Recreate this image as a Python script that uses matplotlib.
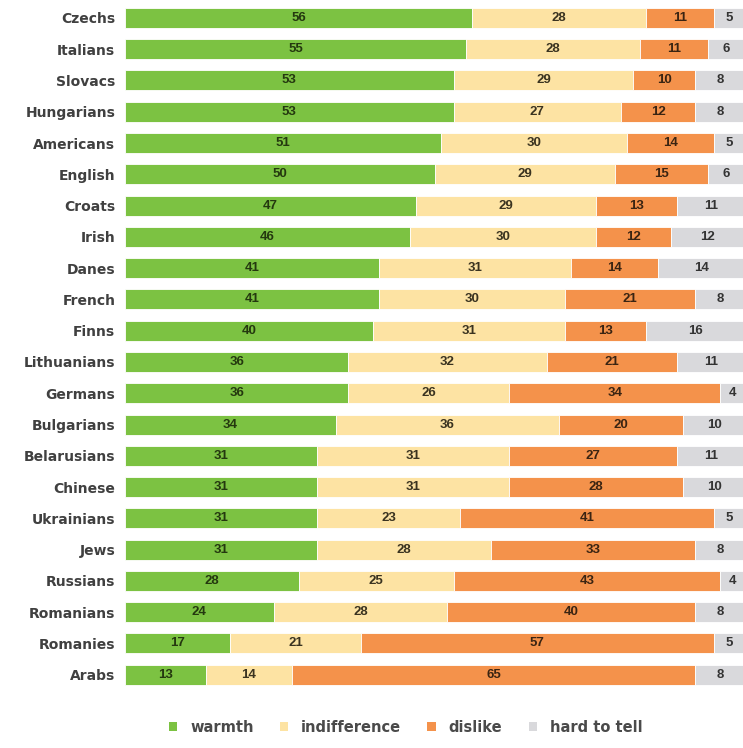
import numpy as np
import matplotlib.pyplot as plt
from matplotlib.patches import Patch

groups = ['Czechs', 'Italians', 'Slovacs', 'Hungarians', 'Americans', 'English',
          'Croats', 'Irish', 'Danes', 'French', 'Finns', 'Lithuanians', 'Germans',
          'Bulgarians', 'Belarusians', 'Chinese', 'Ukrainians', 'Jews', 'Russians',
          'Romanians', 'Romanies', 'Arabs']
warmth = [56, 55, 53, 53, 51, 50, 47, 46, 41, 41, 40, 36, 36, 34, 31, 31, 31, 31, 28, 24, 17, 13]
indifference = [28, 28, 29, 27, 30, 29, 29, 30, 31, 30, 31, 32, 26, 36, 31, 31, 23, 28, 25, 28, 21, 14]
dislike = [11, 11, 10, 12, 14, 15, 13, 12, 14, 21, 13, 21, 34, 20, 27, 28, 41, 33, 43, 40, 57, 65]
hard_to_tell = [5, 6, 8, 8, 5, 6, 11, 12, 14, 8, 16, 11, 4, 10, 11, 10, 5, 8, 4, 8, 5, 8]

series = [
    ('warmth', warmth, '#7cc242', '#24380f'),
    ('indifference', indifference, '#fde3a3', '#3a3320'),
    ('dislike', dislike, '#f4924b', '#3a2412'),
    ('hard to tell', hard_to_tell, '#d9d9dc', '#333333'),
]

fig = plt.figure(figsize=(7.43, 7.48), dpi=100)
ax = fig.add_axes([125 / 743, 0.077, 620 / 743, 0.92])

y = np.arange(len(groups))
left = np.zeros(len(groups))
for name, vals, color, tcolor in series:
    vals = np.array(vals, dtype=float)
    ax.barh(y, vals, left=left, height=0.64, color=color, edgecolor='white',
            linewidth=0.6, label=name)
    for yi, (l, v) in enumerate(zip(left, vals)):
        ax.text(l + v / 2, yi, f'{int(v)}', ha='center', va='center',
                fontsize=9.5, fontweight='bold', color=tcolor,
                family='Liberation Sans')
    left += vals

ax.set_xlim(0, 100)
ax.set_ylim(len(groups) - 0.5, -0.5)
ax.set_yticks(y)
ax.set_yticklabels(groups, fontsize=10, fontweight='bold', color='#404040')
ax.tick_params(axis='y', length=0, pad=7)
ax.set_xticks([])
for s in ax.spines.values():
    s.set_visible(False)

handles = [Patch(facecolor=c, edgecolor='none', label=n) for n, _, c, _ in series]
leg = fig.legend(handles=handles, loc='center', bbox_to_anchor=(0.546, 0.028), ncol=4,
                 frameon=False, prop={'size': 10.5, 'weight': 'bold'},
                 handlelength=0.55, handleheight=0.55, handletextpad=0.9,
                 columnspacing=1.8, labelcolor='#4a4a4a')

fig.savefig('out.png', dpi=100)
